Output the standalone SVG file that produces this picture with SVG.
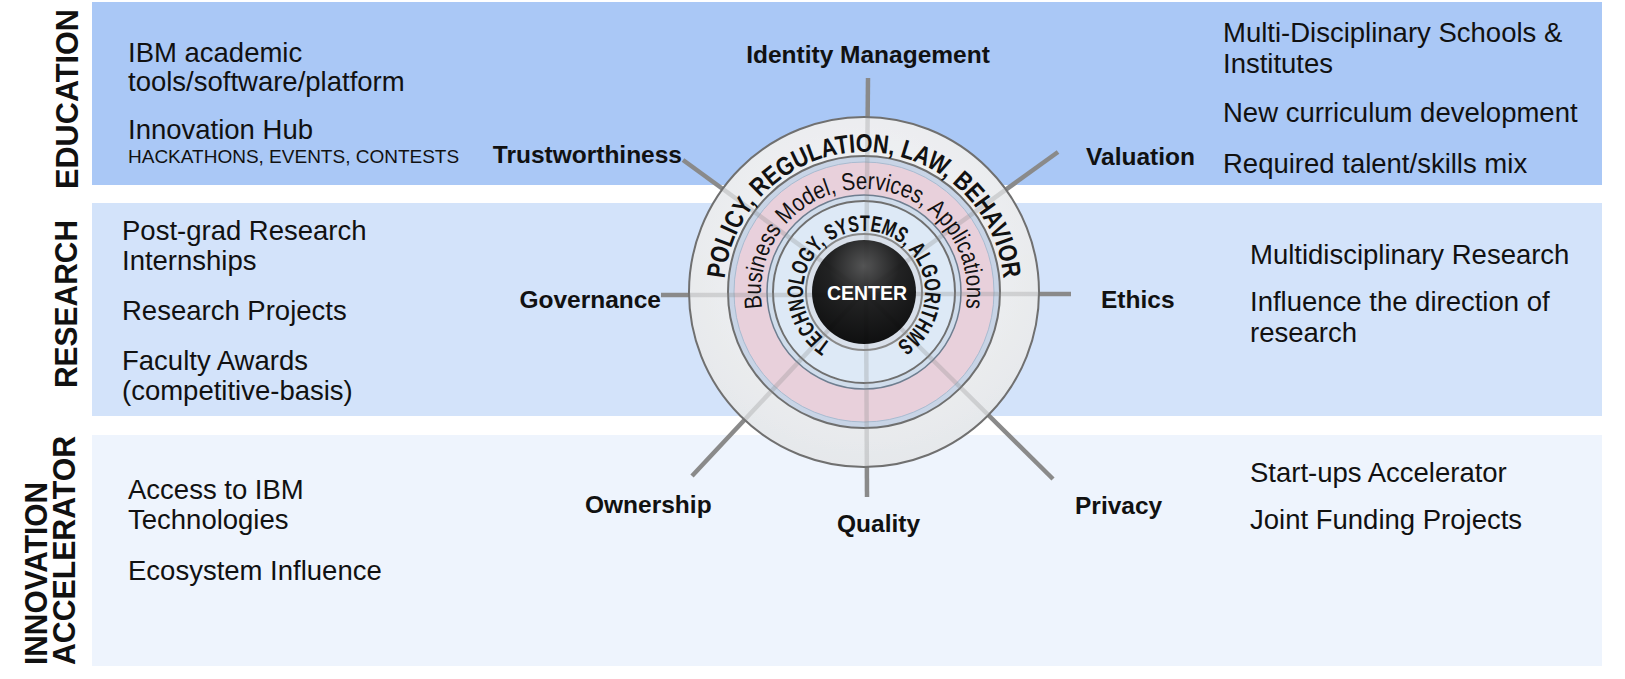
<svg xmlns="http://www.w3.org/2000/svg" xmlns:xlink="http://www.w3.org/1999/xlink" width="1625" height="679" viewBox="0 0 1625 679">
<style>
.body{font-family:"Liberation Sans",Arial,sans-serif;font-size:27.5px;fill:#111}
.small{font-family:"Liberation Sans",Arial,sans-serif;font-size:19px;fill:#111}
.cat{font-family:"Liberation Sans",Arial,sans-serif;font-size:32px;font-weight:bold;fill:#111}
.lbl{font-family:"Liberation Sans",Arial,sans-serif;font-size:24.5px;font-weight:bold;fill:#111}
.ring{font-family:"Liberation Sans",Arial,sans-serif;fill:#111}
.spoke{stroke:#8a8a8a;stroke-width:4.5;fill:none}
.rs{stroke:#707070;stroke-width:2}
</style>
<defs>
<radialGradient id="outerG" cx="50%" cy="40%" r="60%">
<stop offset="0" stop-color="#f7f8f9"/><stop offset="1" stop-color="#e6e8eb"/>
</radialGradient>
<radialGradient id="blackG" cx="50%" cy="25%" r="75%">
<stop offset="0" stop-color="#4a4a4a"/><stop offset="0.45" stop-color="#141414"/><stop offset="1" stop-color="#000"/>
</radialGradient>
<clipPath id="hubClip"><circle cx="864" cy="292" r="175"/></clipPath>
<path id="arcP" d="M864 432 A140 140 0 1 1 864 152 A140 140 0 1 1 864 432"/>
<path id="arcB" d="M864 395 A103 103 0 1 1 864 189 A103 103 0 1 1 864 395"/>
<path id="arcT" d="M864 353 A61 61 0 1 1 864 231 A61 61 0 1 1 864 353"/>
</defs>
<rect width="1625" height="679" fill="#ffffff"/>
<g id="bands">
<rect id="band-education" x="92" y="2" width="1510" height="183" fill="#aac8f6"/>
<rect id="band-research" x="92" y="203" width="1510" height="213" fill="#d3e3fa"/>
<rect id="band-innovation" x="92" y="435" width="1510" height="231" fill="#eef4fd"/>
</g>
<g id="category-labels">
<text class="cat" transform="translate(78,99) rotate(-90)" text-anchor="middle" textLength="180" lengthAdjust="spacingAndGlyphs">EDUCATION</text>
<text class="cat" transform="translate(77,304) rotate(-90)" text-anchor="middle" textLength="168" lengthAdjust="spacingAndGlyphs">RESEARCH</text>
<text class="cat" style="font-size:31px" transform="translate(47,665) rotate(-90)" textLength="183" lengthAdjust="spacingAndGlyphs">INNOVATION</text>
<text class="cat" style="font-size:31px" transform="translate(75,665) rotate(-90)" textLength="229" lengthAdjust="spacingAndGlyphs">ACCELERATOR</text>
</g>
<g id="connectors">
<g id="spokes">
<line class="spoke" x1="866" y1="292" x2="868" y2="78"/>
<line class="spoke" x1="864" y1="292" x2="1058" y2="152"/>
<line class="spoke" x1="864" y1="294" x2="1071" y2="294"/>
<line class="spoke" x1="864" y1="292" x2="1053" y2="479"/>
<line class="spoke" x1="866" y1="292" x2="867" y2="497"/>
<line class="spoke" x1="864" y1="292" x2="692" y2="476"/>
<line class="spoke" x1="864" y1="295" x2="661" y2="295"/>
<line class="spoke" x1="864" y1="292" x2="683" y2="160"/>
</g>
</g>
<g id="hub">
<circle cx="864" cy="292" r="175" fill="url(#outerG)" class="rs"/>
<circle cx="864" cy="292" r="136" fill="#c8d5e6" class="rs"/>
<circle cx="864" cy="292" r="130" fill="#e8d0dc" stroke="#a9bbd0" stroke-width="1"/>
<circle cx="864" cy="292" r="97" fill="#d0ddec" stroke="#6f7f90" stroke-width="1.5"/>
<circle cx="864" cy="292" r="91" fill="#dde9f6" class="rs"/>
<circle cx="864" cy="292" r="58" fill="#d9e0ea" stroke="#8a8a8a" stroke-width="2"/>
<use xlink:href="#spokes" href="#spokes" opacity="0.28" clip-path="url(#hubClip)"/>
<circle cx="864" cy="292" r="52" fill="url(#blackG)" fill-opacity="0.93"/>
<text class="ring" font-size="26" font-weight="bold"><textPath xlink:href="#arcP" href="#arcP" startOffset="50%" text-anchor="middle" textLength="413" lengthAdjust="spacingAndGlyphs">POLICY, REGULATION, LAW, BEHAVIOR</textPath></text>
<text class="ring" font-size="24.5"><textPath xlink:href="#arcB" href="#arcB" startOffset="50%" text-anchor="middle" textLength="356" lengthAdjust="spacingAndGlyphs">Business Model, Services, Applications</textPath></text>
<text class="ring" font-size="22.5" font-weight="bold"><textPath xlink:href="#arcT" href="#arcT" startOffset="50%" text-anchor="middle" textLength="314" lengthAdjust="spacingAndGlyphs">TECHNOLOGY, SYSTEMS, ALGORITHMS</textPath></text>
<text x="867" y="300" text-anchor="middle" font-family="Liberation Sans, Arial, sans-serif" font-size="19.5" font-weight="bold" fill="#ffffff">CENTER</text>
</g>
<g id="node-identity"><text class="lbl" x="868" y="63" text-anchor="middle">Identity Management</text></g>
<g id="node-trustworthiness"><text class="lbl" x="682" y="163" text-anchor="end">Trustworthiness</text></g>
<g id="node-valuation"><text class="lbl" x="1195" y="165" text-anchor="end">Valuation</text></g>
<g id="node-governance"><text class="lbl" x="661" y="308" text-anchor="end">Governance</text></g>
<g id="node-ethics"><text class="lbl" x="1101" y="308">Ethics</text></g>
<g id="node-ownership"><text class="lbl" x="585" y="513">Ownership</text></g>
<g id="node-quality"><text class="lbl" x="837" y="532">Quality</text></g>
<g id="node-privacy"><text class="lbl" x="1075" y="514">Privacy</text></g>
<g id="education-left">
<text class="body" x="128" y="62">IBM academic</text>
<text class="body" x="128" y="91">tools/software/platform</text>
<text class="body" x="128" y="139">Innovation Hub</text>
<text class="small" x="128" y="163">HACKATHONS, EVENTS, CONTESTS</text>
</g>
<g id="education-right">
<text class="body" x="1223" y="42">Multi-Disciplinary Schools &amp;</text>
<text class="body" x="1223" y="73">Institutes</text>
<text class="body" x="1223" y="122">New curriculum development</text>
<text class="body" x="1223" y="173">Required talent/skills mix</text>
</g>
<g id="research-left">
<text class="body" x="122" y="240">Post-grad Research</text>
<text class="body" x="122" y="270">Internships</text>
<text class="body" x="122" y="320">Research Projects</text>
<text class="body" x="122" y="370">Faculty Awards</text>
<text class="body" x="122" y="400">(competitive-basis)</text>
</g>
<g id="research-right">
<text class="body" x="1250" y="264">Multidisciplinary Research</text>
<text class="body" x="1250" y="311">Influence the direction of</text>
<text class="body" x="1250" y="342">research</text>
</g>
<g id="innovation-left">
<text class="body" x="128" y="499">Access to IBM</text>
<text class="body" x="128" y="529">Technologies</text>
<text class="body" x="128" y="580">Ecosystem Influence</text>
</g>
<g id="innovation-right">
<text class="body" x="1250" y="482">Start-ups Accelerator</text>
<text class="body" x="1250" y="529">Joint Funding Projects</text>
</g>
</svg>
